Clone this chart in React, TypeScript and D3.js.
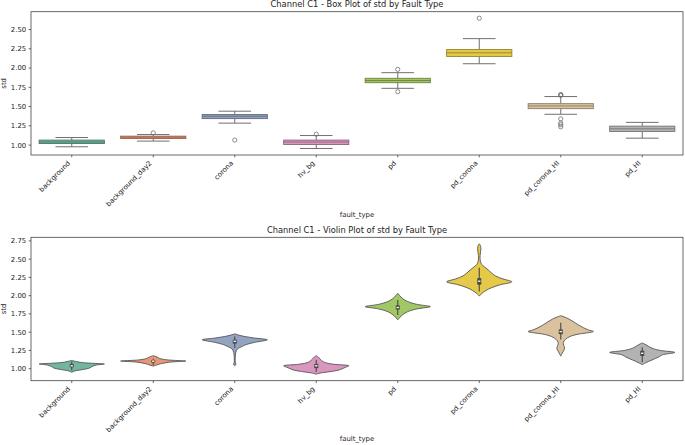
import React from 'react';
import * as d3 from 'd3';

// Fault categories, left to right
const categories = [
  'background', 'background_day2', 'corona', 'hv_bg',
  'pd', 'pd_corona', 'pd_corona_HI', 'pd_HI',
];

// Box plot statistics of std per fault type
const whiskerLow = [0.978, 1.052, 1.285, 0.956, 1.737, 2.056, 1.40, 1.09];
const q1 = [1.02, 1.085, 1.344, 1.008, 1.81, 2.151, 1.473, 1.176];
const median = [1.04, 1.103, 1.375, 1.04, 1.838, 2.198, 1.508, 1.211];
const q3 = [1.065, 1.116, 1.396, 1.065, 1.867, 2.24, 1.538, 1.246];
const whiskerHigh = [1.098, 1.137, 1.44, 1.124, 1.94, 2.382, 1.63, 1.295];
const fliers = [
  [],
  [1.159],
  [1.065],
  [1.142],
  [1.983, 1.693],
  [2.647],
  [1.645, 1.651, 1.656, 1.34, 1.286, 1.264, 1.237],
  [],
];

// Violin outlines: [std value, relative half-width]
const violinProfiles: [number, number][][] = [
  [[0.952, 0], [0.97, 0.1], [0.99, 0.35], [1.01, 0.55], [1.03, 0.62], [1.05, 0.75], [1.064, 1.0], [1.075, 0.6], [1.085, 0.3], [1.097, 0.15], [1.113, 0]],
  [[1.035, 0], [1.05, 0.1], [1.07, 0.25], [1.09, 0.5], [1.105, 1.0], [1.12, 0.45], [1.14, 0.2], [1.16, 0.12], [1.178, 0]],
  [[1.04, 0], [1.05, 0.025], [1.065, 0.035], [1.09, 0.015], [1.15, 0.015], [1.22, 0.03], [1.27, 0.08], [1.3, 0.2], [1.33, 0.35], [1.36, 0.6], [1.396, 1.0], [1.42, 0.6], [1.44, 0.32], [1.46, 0.12], [1.478, 0]],
  [[0.925, 0], [0.94, 0.12], [0.96, 0.42], [0.98, 0.68], [1.0, 0.8], [1.02, 0.9], [1.04, 1.0], [1.06, 0.55], [1.08, 0.3], [1.1, 0.2], [1.13, 0.12], [1.16, 0.06], [1.178, 0]],
  [[1.668, 0], [1.7, 0.06], [1.74, 0.15], [1.78, 0.3], [1.82, 0.6], [1.85, 1.0], [1.88, 0.6], [1.92, 0.3], [1.96, 0.15], [2.0, 0.06], [2.033, 0]],
  [[1.996, 0], [2.03, 0.08], [2.07, 0.2], [2.11, 0.38], [2.15, 0.65], [2.19, 1.0], [2.23, 0.72], [2.27, 0.5], [2.31, 0.38], [2.35, 0.28], [2.39, 0.17], [2.43, 0.07], [2.48, 0.03], [2.55, 0.025], [2.6, 0.04], [2.65, 0.05], [2.69, 0.03], [2.71, 0]],
  [[1.172, 0], [1.2, 0.03], [1.24, 0.08], [1.28, 0.12], [1.32, 0.09], [1.36, 0.08], [1.4, 0.14], [1.44, 0.28], [1.47, 0.5], [1.509, 1.0], [1.53, 0.85], [1.56, 0.7], [1.6, 0.54], [1.64, 0.4], [1.68, 0.25], [1.71, 0.1], [1.725, 0]],
  [[1.055, 0], [1.08, 0.1], [1.12, 0.3], [1.16, 0.5], [1.19, 0.62], [1.223, 1.0], [1.25, 0.55], [1.28, 0.3], [1.31, 0.18], [1.34, 0.06], [1.352, 0]],
];

const boxTicks = ['1.00', '1.25', '1.50', '1.75', '2.00', '2.25', '2.50'];
const violinTicks = ['1.00', '1.25', '1.50', '1.75', '2.00', '2.25', '2.50', '2.75'];

const W = 685;
const H = 445;
const FONT = 'DejaVu Sans, sans-serif';
const TICK_FS = 6.9;
const LINE = '#707070';

// seaborn-style desaturated Set2
const palette = d3.schemeSet2.map(c => {
  const h = d3.hsl(c);
  h.s *= 0.75;
  return h.formatHex();
});

const padExtent = (vals: number[]): [number, number] => {
  const [lo, hi] = d3.extent(vals) as [number, number];
  const m = (hi - lo) * 0.05;
  return [lo - m, hi + m];
};

type PanelProps = {
  top: number;
  bottom: number;
  title: string;
  ticks: string[];
  domain: [number, number];
  xLabelY: number;
  children: (x: d3.ScaleBand<string>, y: d3.ScaleLinear<number, number>) => React.ReactNode;
};

function Panel({ top, bottom, title, ticks, domain, xLabelY, children }: PanelProps) {
  const left = 31;
  const right = 683;
  const x = d3.scaleBand<string>().domain(categories).range([left, right]).padding(0);
  const y = d3.scaleLinear().domain(domain).range([bottom, top]);
  const tickLen = 2.4;
  const labelTop = bottom + tickLen * 2;

  return (
    <g fontFamily={FONT}>
      <text x={(left + right) / 2} y={top - 4.3} textAnchor="middle" fontSize={8.3} fill="#222">
        {title}
      </text>
      {children(x, y)}
      <rect x={left} y={top} width={right - left} height={bottom - top} fill="none" stroke="#444" strokeWidth={0.8} />
      {ticks.map(t => (
        <g key={t}>
          <line x1={left - tickLen} x2={left} y1={y(+t)} y2={y(+t)} stroke="#444" strokeWidth={0.8} />
          <text x={left - tickLen * 2} y={y(+t)} dy="0.35em" textAnchor="end" fontSize={TICK_FS} fill="#222">
            {t}
          </text>
        </g>
      ))}
      {categories.map(c => {
        const cx = x(c)! + x.bandwidth() / 2;
        const ex = cx - 1.1;
        const ey = labelTop + 3.8;
        return (
          <g key={c}>
            <line x1={cx} x2={cx} y1={bottom} y2={bottom + tickLen} stroke="#444" strokeWidth={0.8} />
            <text x={ex} y={ey} transform={`rotate(-45, ${ex}, ${ey})`} textAnchor="end" fontSize={TICK_FS} fill="#222">
              {c}
            </text>
          </g>
        );
      })}
      <text x={(left + right) / 2} y={xLabelY} textAnchor="middle" fontSize={TICK_FS} fill="#222">
        fault_type
      </text>
      <text
        x={6.3}
        y={(top + bottom) / 2}
        transform={`rotate(-90, 6.3, ${(top + bottom) / 2})`}
        textAnchor="middle"
        fontSize={TICK_FS}
        fill="#222"
      >
        std
      </text>
    </g>
  );
}

function BoxMarks({ x, y }: { x: d3.ScaleBand<string>; y: d3.ScaleLinear<number, number> }) {
  const bw = x.bandwidth() * 0.8;
  return (
    <g>
      {categories.map((c, i) => {
        const cx = x(c)! + x.bandwidth() / 2;
        const edge = d3.color(palette[i])!.darker(1.2).formatHex();
        return (
          <g key={c}>
            <line x1={cx} x2={cx} y1={y(whiskerLow[i])} y2={y(q1[i])} stroke={LINE} strokeWidth={1} />
            <line x1={cx} x2={cx} y1={y(q3[i])} y2={y(whiskerHigh[i])} stroke={LINE} strokeWidth={1} />
            <line x1={cx - bw / 4} x2={cx + bw / 4} y1={y(whiskerLow[i])} y2={y(whiskerLow[i])} stroke={LINE} strokeWidth={1} />
            <line x1={cx - bw / 4} x2={cx + bw / 4} y1={y(whiskerHigh[i])} y2={y(whiskerHigh[i])} stroke={LINE} strokeWidth={1} />
            <rect
              x={cx - bw / 2}
              y={y(q3[i])}
              width={bw}
              height={y(q1[i]) - y(q3[i])}
              fill={palette[i]}
              stroke={edge}
              strokeWidth={0.9}
            />
            <line x1={cx - bw / 2} x2={cx + bw / 2} y1={y(median[i])} y2={y(median[i])} stroke={edge} strokeWidth={0.9} />
            {fliers[i].map((v, k) => (
              <circle key={k} cx={cx} cy={y(v)} r={2.1} fill="none" stroke={LINE} strokeWidth={0.8} />
            ))}
          </g>
        );
      })}
    </g>
  );
}

function ViolinMarks({ x, y }: { x: d3.ScaleBand<string>; y: d3.ScaleLinear<number, number> }) {
  const half = (x.bandwidth() * 0.8) / 2;
  return (
    <g>
      {categories.map((c, i) => {
        const cx = x(c)! + x.bandwidth() / 2;
        const area = d3
          .area<[number, number]>()
          .y(d => y(d[0]))
          .x0(d => cx - d[1] * half)
          .x1(d => cx + d[1] * half)
          .curve(d3.curveCatmullRom.alpha(0.5));
        return (
          <g key={c}>
            <path d={area(violinProfiles[i]) ?? ''} fill={palette[i]} stroke="#555" strokeWidth={0.9} strokeLinejoin="round" />
            <line x1={cx} x2={cx} y1={y(whiskerLow[i])} y2={y(whiskerHigh[i])} stroke="#474747" strokeWidth={1.1} />
            <rect x={cx - 2} y={y(q3[i])} width={4} height={y(q1[i]) - y(q3[i])} fill="#474747" />
            <rect x={cx - 1.2} y={y(median[i]) - 0.7} width={2.4} height={1.4} fill="#f2f2f2" />
          </g>
        );
      })}
    </g>
  );
}

export default function App() {
  const boxValues = [...whiskerLow, ...whiskerHigh, ...fliers.flat()];
  const violinValues = violinProfiles.flat().map(d => d[0]);
  return (
    <svg width={W} height={H} style={{ position: 'absolute', left: 0, top: 0, background: '#fff' }}>
      <rect width={W} height={H} fill="#fff" />
      <Panel
        top={11.7}
        bottom={155}
        title="Channel C1 - Box Plot of std by Fault Type"
        ticks={boxTicks}
        domain={padExtent(boxValues)}
        xLabelY={216.5}
      >
        {(x, y) => <BoxMarks x={x} y={y} />}
      </Panel>
      <Panel
        top={237.3}
        bottom={380.7}
        title="Channel C1 - Violin Plot of std by Fault Type"
        ticks={violinTicks}
        domain={padExtent(violinValues)}
        xLabelY={441}
      >
        {(x, y) => <ViolinMarks x={x} y={y} />}
      </Panel>
    </svg>
  );
}
